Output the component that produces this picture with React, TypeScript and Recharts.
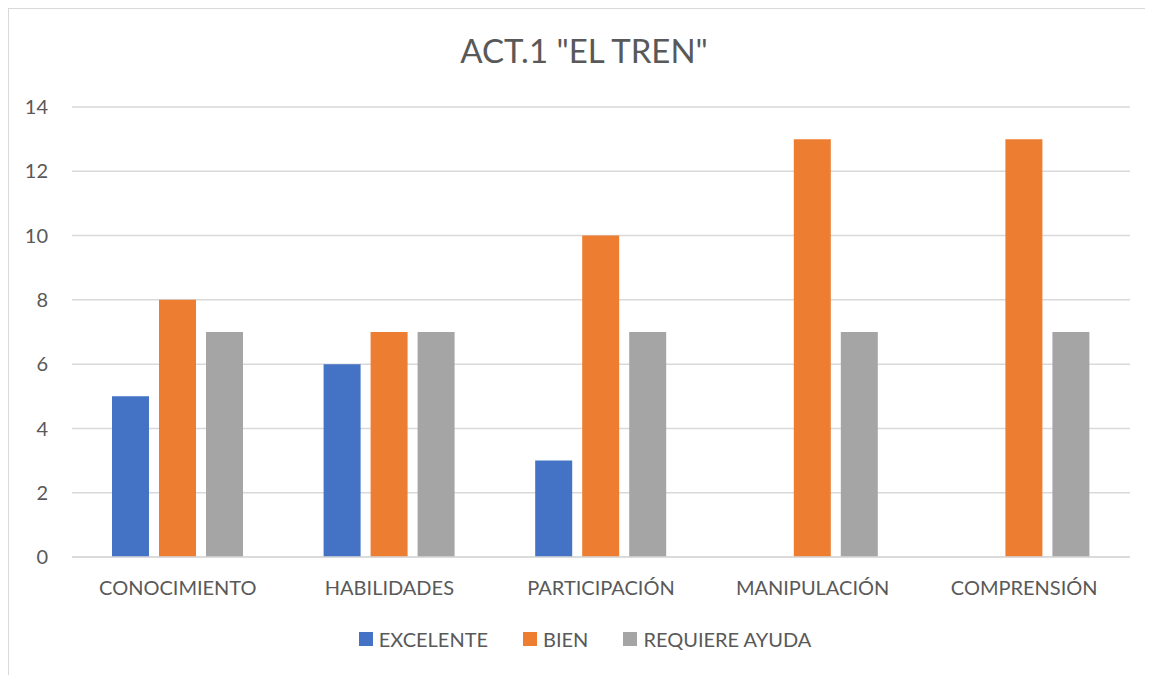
import { Bar, BarChart, CartesianGrid, XAxis, YAxis } from "recharts";

const CATEGORIES = [
  "CONOCIMIENTO",
  "HABILIDADES",
  "PARTICIPACIÓN",
  "MANIPULACIÓN",
  "COMPRENSIÓN",
];
const EXCELENTE = [5, 6, 3, 0, 0];
const BIEN = [8, 7, 10, 13, 13];
const REQUIERE_AYUDA = [7, 7, 7, 7, 7];
const Y_TICKS = [0, 2, 4, 6, 8, 10, 12, 14];

const SERIES = [
  { key: "excelente", name: "EXCELENTE", color: "#4472C4" },
  { key: "bien", name: "BIEN", color: "#ED7D31" },
  { key: "ayuda", name: "REQUIERE AYUDA", color: "#A5A5A5" },
];

const chartData = CATEGORIES.map((name, i) => ({
  name,
  excelente: EXCELENTE[i],
  bien: BIEN[i],
  ayuda: REQUIERE_AYUDA[i],
}));

const FONT = "Lato, 'Noto Sans', sans-serif";
const TEXT = "#595959";
const GRID = "#d9d9d9";

export default function App() {
  return (
    <div
      style={{
        position: "relative",
        width: 1145,
        height: 667,
        boxSizing: "border-box",
        borderLeft: `1px solid ${GRID}`,
        borderTop: `1px solid ${GRID}`,
        fontFamily: FONT,
        background: "#fff",
      }}
    >
      <div
        style={{
          position: "absolute",
          top: 25,
          left: 0,
          width: 1150,
          textAlign: "center",
          fontSize: 33,
          lineHeight: "33px",
          color: TEXT,
        }}
      >
        ACT.1 "EL TREN"
      </div>

      <div style={{ position: "absolute", top: 0, left: 0 }}>
        <BarChart
          width={1144}
          height={666}
          data={chartData}
          margin={{ top: 98, right: 23, bottom: 78, left: 0 }}
          barSize={37}
          barGap={10}
        >
          <CartesianGrid vertical={false} stroke={GRID} strokeWidth={1.5} />
          <XAxis
            dataKey="name"
            height={40}
            axisLine={{ stroke: GRID, strokeWidth: 1.5 }}
            tickLine={false}
            tickSize={0}
            tickMargin={24}
            tick={{ fill: TEXT, fontSize: 20, fontFamily: FONT }}
            interval={0}
          />
          <YAxis
            width={63}
            domain={[0, 14]}
            ticks={Y_TICKS}
            axisLine={false}
            tickLine={false}
            tickSize={0}
            tickMargin={24}
            tick={{ fill: TEXT, fontSize: 20, fontFamily: FONT }}
          />
          {SERIES.map((s) => (
            <Bar
              key={s.key}
              dataKey={s.key}
              name={s.name}
              fill={s.color}
              isAnimationActive={false}
            />
          ))}
        </BarChart>
      </div>

      <div
        style={{
          position: "absolute",
          top: 620,
          left: 4,
          width: 1144,
          display: "flex",
          justifyContent: "center",
          alignItems: "center",
          gap: 35,
          fontSize: 20,
          lineHeight: "20px",
          color: TEXT,
        }}
      >
        {SERIES.map((s) => (
          <div key={s.key} style={{ display: "flex", alignItems: "center" }}>
            <span
              style={{
                display: "inline-block",
                width: 14,
                height: 14,
                background: s.color,
                marginRight: 6,
              }}
            />
            <span>{s.name}</span>
          </div>
        ))}
      </div>
    </div>
  );
}
